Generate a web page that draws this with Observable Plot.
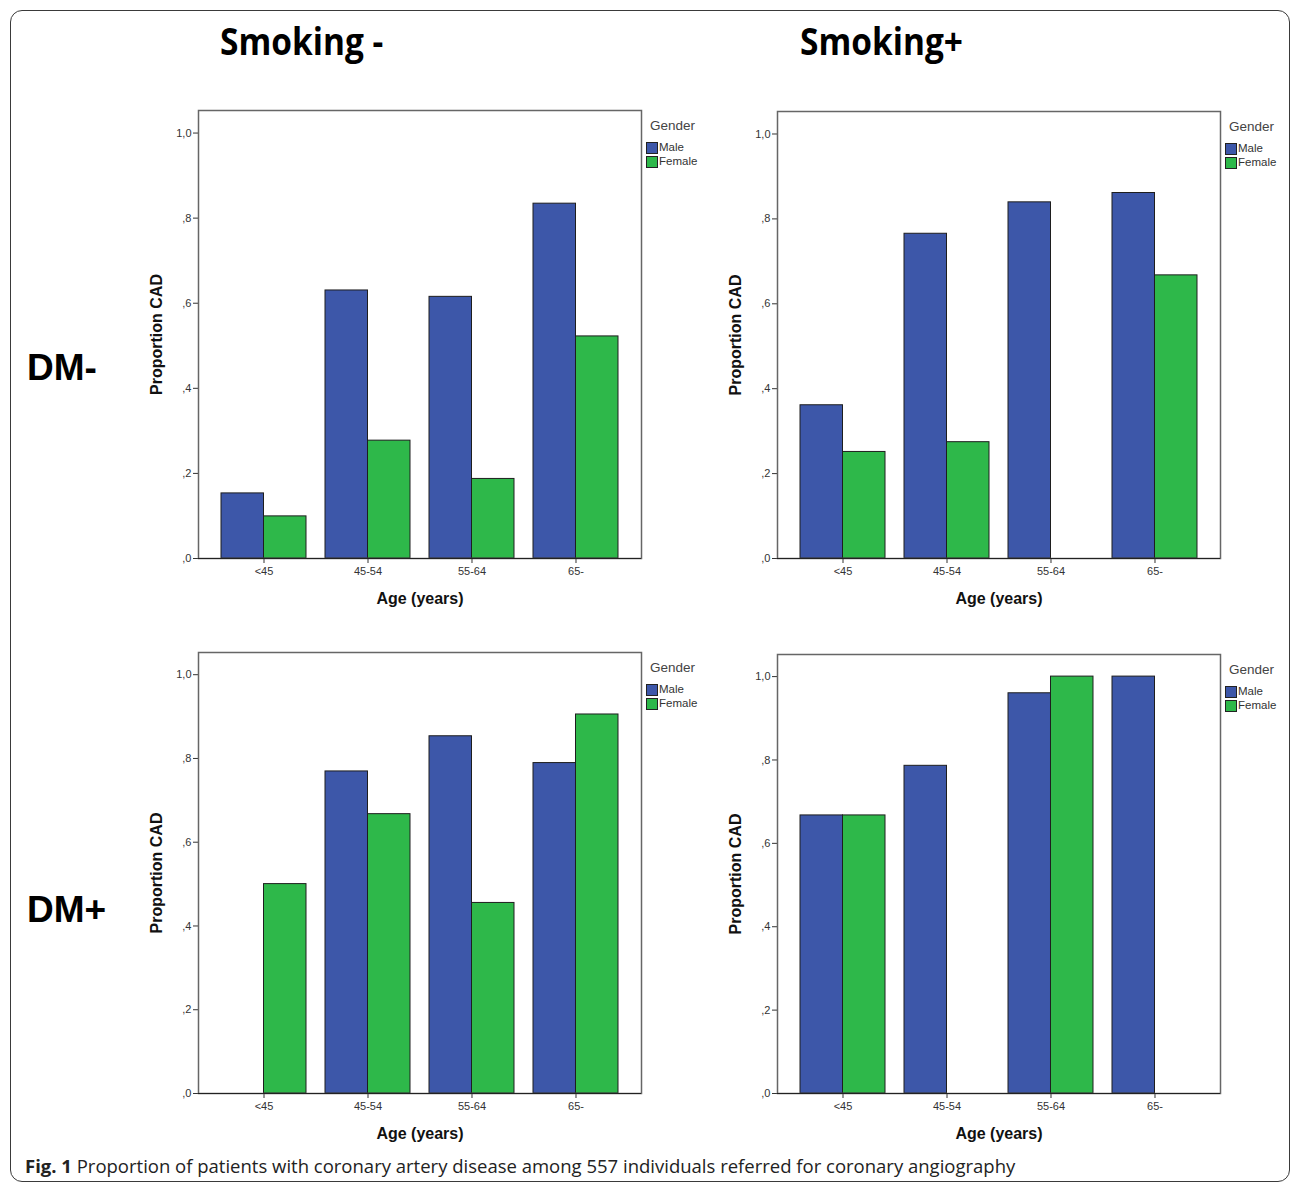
<!DOCTYPE html>
<html>
<head>
<meta charset="utf-8">
<script src="https://cdn.jsdelivr.net/npm/d3@7"></script>
<script src="https://cdn.jsdelivr.net/npm/@observablehq/plot@0.6"></script>
<style>
  html, body { margin: 0; padding: 0; background: #fff; }
  #page { position: relative; width: 1292px; height: 1183px; overflow: hidden; background: #fff; font-family: "Liberation Sans", Arial, sans-serif; }
  #border { position: absolute; left: 10px; top: 10px; width: 1278px; height: 1170px; border: 1.5px solid #3a3a3a; border-radius: 12px; }
  .title { position: absolute; font-family: "Open Sans", sans-serif; font-weight: bold; font-size: 38px; line-height: 1; color: #000; white-space: nowrap; transform: scaleX(0.88); transform-origin: left top; }
  .row { position: absolute; font-family: "Liberation Sans", Arial, sans-serif; font-weight: bold; font-size: 37px; line-height: 1; color: #000; white-space: nowrap; }
  .caption { position: absolute; left: 25px; top: 1155px; font-family: "Open Sans", sans-serif; font-size: 18.5px; line-height: 1.2; color: #222; white-space: nowrap; }
  .caption b { font-weight: bold; }
  .panel { position: absolute; width: 580px; }
  .panel svg { max-width: none !important; display: block; }
  .legend { position: absolute; font-family: "Liberation Sans", Arial, sans-serif; color: #333; }
  .legend .lt { position: absolute; left: 4px; top: 0; font-size: 13.5px; line-height: 1; white-space: nowrap; color: #444; }
  .legend .sw { position: absolute; left: 0; width: 10px; height: 10px; border: 1px solid #222; }
  .legend .lab { position: absolute; left: 13px; font-size: 11.5px; line-height: 1; white-space: nowrap; }
</style>
</head>
<body>
<div id="page">
  <div id="border"></div>
  <div class="title" style="left:220px; top:21px;">Smoking -</div>
  <div class="title" style="left:800px; top:21px;">Smoking+</div>
  <div class="row" style="left:27px; top:349px;">DM-</div>
  <div class="row" style="left:27px; top:891px;">DM+</div>
  <div class="caption"><b>Fig. 1</b> Proportion of patients with coronary artery disease among 557 individuals referred for coronary angiography</div>
</div>
<script>
// ---- Data ----
const ages = ["<45", "45-54", "55-64", "65-"];
const genders = ["Male", "Female"];
const genderColors = ["#3d57a9", "#2eb84a"];

// Smoking -, DM -
const maleSmokNegDmNeg   = [0.153, 0.630, 0.615, 0.834];
const femaleSmokNegDmNeg = [0.099, 0.277, 0.187, 0.522];
// Smoking +, DM -
const maleSmokPosDmNeg   = [0.361, 0.765, 0.839, 0.861];
const femaleSmokPosDmNeg = [0.251, 0.274, null, 0.667];
// Smoking -, DM +
const maleSmokNegDmPos   = [null, 0.769, 0.853, 0.789];
const femaleSmokNegDmPos = [0.500, 0.667, 0.455, 0.905];
// Smoking +, DM +
const maleSmokPosDmPos   = [0.667, 0.786, 0.960, 1.000];
const femaleSmokPosDmPos = [0.667, null, 1.000, null];

const yTicks = [0, 0.2, 0.4, 0.6, 0.8, 1.0];
const yTickLabels = [",0", ",2", ",4", ",6", ",8", "1,0"];
const yLabel = "Proportion CAD";
const xLabel = "Age (years)";
const legendTitle = "Gender";

// ---- Layout ----
const mL = 58, mR = 79, mT = 10, mB = 57, W = 580, frameW = 443;
const padIn = 0.1827, padOut = 0.2212;
const step = frameW / (ages.length - padIn + 2 * padOut);
const bw = step * (1 - padIn);

const page = document.getElementById("page");

function panel(male, female, frameLeft, frameTop, frameBottom) {
  const rows = [];
  ages.forEach((a, i) => {
    if (male[i] != null) rows.push({age: a, gender: "Male", value: male[i]});
    if (female[i] != null) rows.push({age: a, gender: "Female", value: female[i]});
  });
  const H = (frameBottom - frameTop) + mT + mB;
  const chart = Plot.plot({
    width: W, height: H,
    marginLeft: mL, marginRight: mR, marginTop: mT, marginBottom: mB,
    style: {fontFamily: "'Liberation Sans', Arial, sans-serif", fontSize: "11px", color: "#333", background: "transparent", maxWidth: "none"},
    x: {domain: ages, type: "band", paddingInner: padIn, paddingOuter: padOut, round: false,
        label: null, tickSize: 5, tickPadding: 4},
    y: {domain: [0, 1.053], ticks: yTicks, tickFormat: d => yTickLabels[yTicks.indexOf(d)],
        label: null, tickSize: 5, tickPadding: 2},
    color: {domain: genders, range: genderColors},
    marks: [
      Plot.barY(rows.filter(d => d.gender === "Male"), {x: "age", y: "value", fill: "gender", stroke: "#1e1e1e", strokeWidth: 1, insetLeft: 0, insetRight: bw / 2}),
      Plot.barY(rows.filter(d => d.gender === "Female"), {x: "age", y: "value", fill: "gender", stroke: "#1e1e1e", strokeWidth: 1, insetLeft: bw / 2, insetRight: 0}),
      Plot.frame({stroke: "#666", strokeWidth: 1.5}),
      Plot.ruleY([0], {stroke: "#222", strokeWidth: 1.2}),
      Plot.text([yLabel], {text: d => d, frameAnchor: "left", textAnchor: "middle", lineAnchor: "middle", dx: -42, rotate: -90, fontWeight: "bold", fontSize: 16, fill: "#111"}),
      Plot.text([xLabel], {text: d => d, frameAnchor: "bottom", textAnchor: "middle", lineAnchor: "middle", dy: 40, fontWeight: "bold", fontSize: 16, fill: "#111"})
    ]
  });
  const wrap = document.createElement("div");
  wrap.className = "panel";
  wrap.style.left = (frameLeft - mL) + "px";
  wrap.style.top = (frameTop - mT) + "px";
  wrap.appendChild(chart);
  page.appendChild(wrap);

  // legend
  const frameRight = frameLeft + frameW;
  const lg = document.createElement("div");
  lg.className = "legend";
  lg.style.left = (frameRight + 5) + "px";
  lg.style.top = (frameTop + 9) + "px";
  let html = `<div class="lt">${legendTitle}</div>`;
  genders.forEach((g, i) => {
    const top = 23 + i * 14;
    html += `<div class="sw" style="top:${top}px;background:${genderColors[i]}"></div>`;
    html += `<div class="lab" style="top:${top}px">${g}</div>`;
  });
  lg.innerHTML = html;
  page.appendChild(lg);
}

panel(maleSmokNegDmNeg, femaleSmokNegDmNeg, 198, 110, 558);
panel(maleSmokPosDmNeg, femaleSmokPosDmNeg, 777, 111, 558);
panel(maleSmokNegDmPos, femaleSmokNegDmPos, 198, 652, 1093);
panel(maleSmokPosDmPos, femaleSmokPosDmPos, 777, 654, 1093);
</script>
</body>
</html>
